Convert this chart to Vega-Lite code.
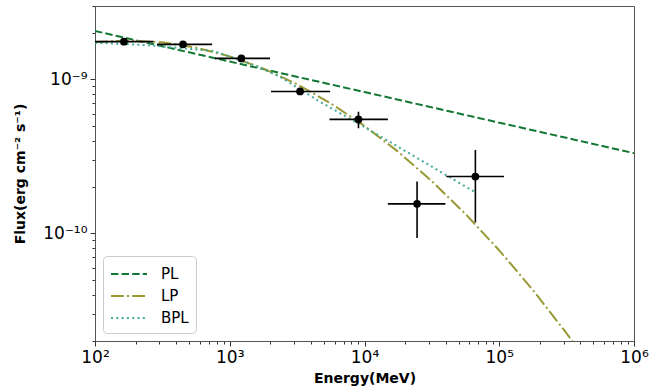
{
  "$schema": "https://vega.github.io/schema/vega-lite/v6.json",
  "width": 539,
  "height": 335,
  "autosize": {"type": "none"},
  "padding": {"left": 95, "top": 6, "right": 16, "bottom": 47},
  "background": "white",
  "config": {
    "font": "DejaVu Sans",
    "view": {"stroke": "#555", "strokeWidth": 1},
    "axis": {
      "grid": false,
      "domainColor": "#555",
      "tickColor": "#333",
      "labelColor": "black",
      "labelFont": "DejaVu Sans",
      "labelFontSize": 17,
      "titleFont": "DejaVu Sans",
      "titleFontSize": 14,
      "titleFontWeight": "bold",
      "titleColor": "black",
      "labelOverlap": false,
      "labelFlush": false,
      "labelBound": false
    },
    "legend": {
      "orient": "bottom-left",
      "offset": 8,
      "fillColor": "white",
      "strokeColor": "#cccccc",
      "cornerRadius": 4,
      "padding": 7,
      "labelFont": "DejaVu Sans",
      "labelFontSize": 15,
      "labelColor": "black",
      "symbolType": "M-1,0H2.6",
      "symbolSize": 400,
      "symbolStrokeWidth": 2,
      "labelOffset": 29,
      "rowPadding": 3
    }
  },
  "datasets": {
    "points": [
      {"E": 164, "Elo": 100, "Ehi": 271, "F": 1.76e-9, "Flo": 1.70e-9, "Fhi": 1.82e-9},
      {"E": 450, "Elo": 289, "Ehi": 740, "F": 1.69e-9, "Flo": 1.63e-9, "Fhi": 1.75e-9},
      {"E": 1219, "Elo": 778, "Ehi": 1990, "F": 1.37e-9, "Flo": 1.32e-9, "Fhi": 1.42e-9},
      {"E": 3326, "Elo": 2023, "Ehi": 5560, "F": 8.36e-10, "Flo": 8.0e-10, "Fhi": 8.7e-10},
      {"E": 9020, "Elo": 5497, "Ehi": 14900, "F": 5.5e-10, "Flo": 4.82e-10, "Fhi": 6.17e-10},
      {"E": 24550, "Elo": 14900, "Ehi": 39850, "F": 1.556e-10, "Flo": 9.33e-11, "Fhi": 2.17e-10},
      {"E": 66500, "Elo": 40470, "Ehi": 108400, "F": 2.34e-10, "Flo": 1.18e-10, "Fhi": 3.48e-10}
    ],
    "models": [
      {"model": "PL", "E": 100, "F": 2.065e-9},
      {"model": "PL", "E": 1000, "F": 1.307e-9},
      {"model": "PL", "E": 10000, "F": 8.28e-10},
      {"model": "PL", "E": 100000, "F": 5.24e-10},
      {"model": "PL", "E": 1000000, "F": 3.32e-10},
      {"model": "LP", "E": 100, "F": 1.750e-9},
      {"model": "LP", "E": 177.8, "F": 1.791e-9},
      {"model": "LP", "E": 316.2, "F": 1.742e-9},
      {"model": "LP", "E": 562.3, "F": 1.609e-9},
      {"model": "LP", "E": 1000, "F": 1.412e-9},
      {"model": "LP", "E": 1778, "F": 1.176e-9},
      {"model": "LP", "E": 3162, "F": 9.31e-10},
      {"model": "LP", "E": 5623, "F": 6.99e-10},
      {"model": "LP", "E": 10000, "F": 4.995e-10},
      {"model": "LP", "E": 17783, "F": 3.388e-10},
      {"model": "LP", "E": 31623, "F": 2.183e-10},
      {"model": "LP", "E": 56234, "F": 1.335e-10},
      {"model": "LP", "E": 100000, "F": 7.76e-11},
      {"model": "LP", "E": 177828, "F": 4.28e-11},
      {"model": "LP", "E": 316228, "F": 2.244e-11},
      {"model": "LP", "E": 562341, "F": 1.117e-11},
      {"model": "BPL", "E": 100, "F": 1.73e-9},
      {"model": "BPL", "E": 256, "F": 1.667e-9},
      {"model": "BPL", "E": 755, "F": 1.53e-9},
      {"model": "BPL", "E": 1416, "F": 1.27e-9},
      {"model": "BPL", "E": 2361, "F": 1.04e-9},
      {"model": "BPL", "E": 4677, "F": 7.16e-10},
      {"model": "BPL", "E": 9270, "F": 5.1e-10},
      {"model": "BPL", "E": 25880, "F": 3.01e-10},
      {"model": "BPL", "E": 66200, "F": 1.85e-10}
    ]
  },
  "layer": [
    {
      "data": {"name": "models"},
      "mark": {"type": "line", "strokeWidth": 2, "clip": true},
      "encoding": {
        "x": {
          "field": "E", "type": "quantitative",
          "scale": {"type": "log", "domain": [100, 1000000], "nice": false},
          "axis": {
            "title": "Energy(MeV)",
            "titlePadding": 6,
            "values": [100,200,300,400,500,600,700,800,900,1000,2000,3000,4000,5000,6000,7000,8000,9000,10000,20000,30000,40000,50000,60000,70000,80000,90000,100000,200000,300000,400000,500000,600000,700000,800000,900000,1000000],
            "labelExpr": "abs(log(datum.value)/LN10 - round(log(datum.value)/LN10)) > 0.001 ? '' : (round(log(datum.value)/LN10) == 2 ? '10²' : round(log(datum.value)/LN10) == 3 ? '10³' : round(log(datum.value)/LN10) == 4 ? '10⁴' : round(log(datum.value)/LN10) == 5 ? '10⁵' : '10⁶')",
            "tickSize": {"condition": {"test": "abs(log(datum.value)/LN10 - round(log(datum.value)/LN10)) < 0.001", "value": 5}, "value": 3},
            "labelPadding": 3
          }
        },
        "y": {
          "field": "F", "type": "quantitative",
          "scale": {"type": "log", "domain": [2e-11, 3e-9], "nice": false},
          "axis": {
            "title": "Flux(erg cm⁻² s⁻¹)",
            "titlePadding": 15,
            "values": [2e-11,3e-11,4e-11,5e-11,6e-11,7e-11,8e-11,9e-11,1e-10,2e-10,3e-10,4e-10,5e-10,6e-10,7e-10,8e-10,9e-10,1e-9,2e-9,3e-9],
            "labelExpr": "abs(log(datum.value)/LN10 - round(log(datum.value)/LN10)) > 0.001 ? '' : (round(log(datum.value)/LN10) == -9 ? '10⁻⁹' : '10⁻¹⁰')",
            "tickSize": {"condition": {"test": "abs(log(datum.value)/LN10 - round(log(datum.value)/LN10)) < 0.001", "value": 5}, "value": 3},
            "labelPadding": 3
          }
        },
        "color": {
          "field": "model", "type": "nominal", "title": null,
          "scale": {"domain": ["PL", "LP", "BPL"], "range": ["#117733", "#999933", "#44AA99"]}
        },
        "strokeDash": {
          "field": "model", "type": "nominal", "title": null,
          "scale": {"domain": ["PL", "LP", "BPL"], "range": [[7.4, 3.2], [12.8, 3.2, 2, 3.2], [2, 3.3]]}
        }
      }
    },
    {
      "data": {"name": "points"},
      "mark": {"type": "rule", "color": "black", "strokeWidth": 1.6, "clip": true},
      "encoding": {
        "x": {"field": "Elo", "type": "quantitative"},
        "x2": {"field": "Ehi"},
        "y": {"field": "F", "type": "quantitative"}
      }
    },
    {
      "data": {"name": "points"},
      "mark": {"type": "rule", "color": "black", "strokeWidth": 1.6, "clip": true},
      "encoding": {
        "x": {"field": "E", "type": "quantitative"},
        "y": {"field": "Flo", "type": "quantitative"},
        "y2": {"field": "Fhi"}
      }
    },
    {
      "data": {"name": "points"},
      "mark": {"type": "point", "shape": "circle", "filled": true, "color": "black", "opacity": 1, "size": 60},
      "encoding": {
        "x": {"field": "E", "type": "quantitative"},
        "y": {"field": "F", "type": "quantitative"}
      }
    }
  ]
}
